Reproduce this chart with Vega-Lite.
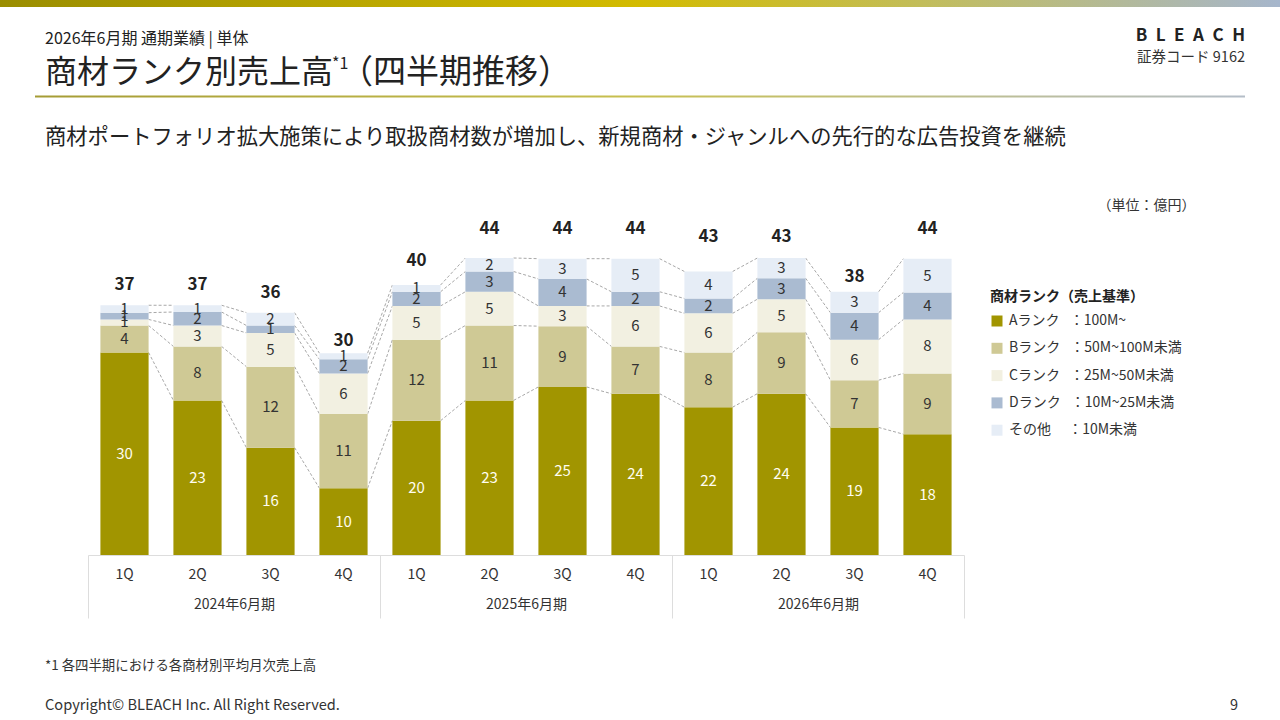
{
  "$schema": "https://vega.github.io/schema/vega-lite/v6.json",
  "width": 876,
  "height": 337.5,
  "autosize": {"type": "none"},
  "padding": {"left": 88, "top": 217.5, "right": 316, "bottom": 165},
  "background": "#ffffff",
  "config": {
    "font": "Noto Sans CJK JP",
    "view": {"stroke": null},
    "axisY": {
      "labels": false, "ticks": false, "domain": false, "grid": false,
      "titleAngle": 0, "titleX": 1058, "titleY": -12.5, "titleAlign": "center", "titleBaseline": "middle",
      "titleFontSize": 14, "titleFontWeight": "normal", "titleColor": "#333333"
    }
  },
  "datasets": {
    "main": [
      {"period": "2024年6月期 1Q", "rank": "Aランク", "value": 30.0},
      {"period": "2024年6月期 1Q", "rank": "Bランク", "value": 4.0},
      {"period": "2024年6月期 1Q", "rank": "Cランク", "value": 0.9},
      {"period": "2024年6月期 1Q", "rank": "Dランク", "value": 1.0},
      {"period": "2024年6月期 1Q", "rank": "その他", "value": 1.1},
      {"period": "2024年6月期 2Q", "rank": "Aランク", "value": 22.9},
      {"period": "2024年6月期 2Q", "rank": "Bランク", "value": 8.0},
      {"period": "2024年6月期 2Q", "rank": "Cランク", "value": 3.1},
      {"period": "2024年6月期 2Q", "rank": "Dランク", "value": 2.0},
      {"period": "2024年6月期 2Q", "rank": "その他", "value": 1.0},
      {"period": "2024年6月期 3Q", "rank": "Aランク", "value": 15.9},
      {"period": "2024年6月期 3Q", "rank": "Bランク", "value": 12.0},
      {"period": "2024年6月期 3Q", "rank": "Cランク", "value": 5.0},
      {"period": "2024年6月期 3Q", "rank": "Dランク", "value": 1.1},
      {"period": "2024年6月期 3Q", "rank": "その他", "value": 1.9},
      {"period": "2024年6月期 4Q", "rank": "Aランク", "value": 9.9},
      {"period": "2024年6月期 4Q", "rank": "Bランク", "value": 11.0},
      {"period": "2024年6月期 4Q", "rank": "Cランク", "value": 6.0},
      {"period": "2024年6月期 4Q", "rank": "Dランク", "value": 2.1},
      {"period": "2024年6月期 4Q", "rank": "その他", "value": 0.9},
      {"period": "2025年6月期 1Q", "rank": "Aランク", "value": 19.9},
      {"period": "2025年6月期 1Q", "rank": "Bランク", "value": 12.0},
      {"period": "2025年6月期 1Q", "rank": "Cランク", "value": 5.0},
      {"period": "2025年6月期 1Q", "rank": "Dランク", "value": 2.1},
      {"period": "2025年6月期 1Q", "rank": "その他", "value": 1.0},
      {"period": "2025年6月期 2Q", "rank": "Aランク", "value": 22.9},
      {"period": "2025年6月期 2Q", "rank": "Bランク", "value": 11.1},
      {"period": "2025年6月期 2Q", "rank": "Cランク", "value": 5.0},
      {"period": "2025年6月期 2Q", "rank": "Dランク", "value": 3.0},
      {"period": "2025年6月期 2Q", "rank": "その他", "value": 2.0},
      {"period": "2025年6月期 3Q", "rank": "Aランク", "value": 24.9},
      {"period": "2025年6月期 3Q", "rank": "Bランク", "value": 9.0},
      {"period": "2025年6月期 3Q", "rank": "Cランク", "value": 3.0},
      {"period": "2025年6月期 3Q", "rank": "Dランク", "value": 4.0},
      {"period": "2025年6月期 3Q", "rank": "その他", "value": 3.0},
      {"period": "2025年6月期 4Q", "rank": "Aランク", "value": 23.9},
      {"period": "2025年6月期 4Q", "rank": "Bランク", "value": 7.0},
      {"period": "2025年6月期 4Q", "rank": "Cランク", "value": 6.0},
      {"period": "2025年6月期 4Q", "rank": "Dランク", "value": 2.1},
      {"period": "2025年6月期 4Q", "rank": "その他", "value": 4.9},
      {"period": "2026年6月期 1Q", "rank": "Aランク", "value": 21.9},
      {"period": "2026年6月期 1Q", "rank": "Bランク", "value": 8.1},
      {"period": "2026年6月期 1Q", "rank": "Cランク", "value": 5.8},
      {"period": "2026年6月期 1Q", "rank": "Dランク", "value": 2.2},
      {"period": "2026年6月期 1Q", "rank": "その他", "value": 4.0},
      {"period": "2026年6月期 2Q", "rank": "Aランク", "value": 23.9},
      {"period": "2026年6月期 2Q", "rank": "Bランク", "value": 9.1},
      {"period": "2026年6月期 2Q", "rank": "Cランク", "value": 4.9},
      {"period": "2026年6月期 2Q", "rank": "Dランク", "value": 3.1},
      {"period": "2026年6月期 2Q", "rank": "その他", "value": 3.0},
      {"period": "2026年6月期 3Q", "rank": "Aランク", "value": 18.9},
      {"period": "2026年6月期 3Q", "rank": "Bランク", "value": 7.0},
      {"period": "2026年6月期 3Q", "rank": "Cランク", "value": 6.0},
      {"period": "2026年6月期 3Q", "rank": "Dランク", "value": 4.0},
      {"period": "2026年6月期 3Q", "rank": "その他", "value": 3.1},
      {"period": "2026年6月期 4Q", "rank": "Aランク", "value": 17.9},
      {"period": "2026年6月期 4Q", "rank": "Bランク", "value": 9.0},
      {"period": "2026年6月期 4Q", "rank": "Cランク", "value": 8.0},
      {"period": "2026年6月期 4Q", "rank": "Dランク", "value": 4.0},
      {"period": "2026年6月期 4Q", "rank": "その他", "value": 5.0}
    ],
    "totals": [
      {"period": "2024年6月期 1Q", "total": 37},
      {"period": "2024年6月期 2Q", "total": 37},
      {"period": "2024年6月期 3Q", "total": 36},
      {"period": "2024年6月期 4Q", "total": 30},
      {"period": "2025年6月期 1Q", "total": 40},
      {"period": "2025年6月期 2Q", "total": 44},
      {"period": "2025年6月期 3Q", "total": 44},
      {"period": "2025年6月期 4Q", "total": 44},
      {"period": "2026年6月期 1Q", "total": 43},
      {"period": "2026年6月期 2Q", "total": 43},
      {"period": "2026年6月期 3Q", "total": 38},
      {"period": "2026年6月期 4Q", "total": 44}
    ],
    "years": [
      {"fy": "2024年6月期"},
      {"fy": "2025年6月期"},
      {"fy": "2026年6月期"}
    ]
  },
  "layer": [
    {
      "data": {"name": "main"},
      "layer": [
        {
          "transform": [
            {"window": [{"op": "sum", "field": "value", "as": "cum"}], "groupby": ["period"], "sort": [{"field": "rank", "order": "ascending"}], "frame": [null, 0]},
            {"window": [{"op": "lead", "field": "cum", "as": "next_cum"}, {"op": "lead", "field": "period", "as": "next_period"}], "groupby": ["rank"], "sort": [{"field": "period", "order": "ascending"}]},
            {"filter": "datum.next_period != null"}
          ],
          "mark": {"type": "rule", "strokeDash": [3, 2], "color": "#a8a8a8", "strokeWidth": 1},
          "encoding": {
            "x": {"field": "period", "type": "nominal", "bandPosition": 1, "title": null},
            "x2": {"field": "next_period", "bandPosition": 0},
            "y": {"field": "cum", "type": "quantitative", "title": "（単位：億円）"},
            "y2": {"field": "next_cum"}
          }
        },
        {
          "mark": {"type": "bar"},
          "encoding": {
            "x": {
              "field": "period", "type": "nominal", "title": null,
              "scale": {"paddingInner": 0.34, "paddingOuter": 0.17},
              "axis": {
                "labelExpr": "split(datum.label, ' ')[1]", "labelAngle": 0, "ticks": false,
                "bandPosition": 0.5, "labelAlign": "center", "labelBaseline": "middle",
                "domain": true, "domainColor": "#dddddd", "labelPadding": 19,
                "labelFontSize": 14, "labelColor": "#333333"
              }
            },
            "y": {"field": "value", "type": "quantitative", "stack": "zero", "title": "（単位：億円）", "scale": {"domain": [0, 50], "nice": false}},
            "order": {"field": "rank", "sort": "ascending"},
            "color": {
              "field": "rank", "type": "nominal",
              "scale": {
                "domain": ["Aランク", "Bランク", "Cランク", "Dランク", "その他"],
                "range": ["#a19500", "#cfc995", "#f2f0e1", "#aabbd1", "#e6edf6"]
              },
              "legend": {
                "orient": "none", "legendX": 902, "legendY": 72.5, "padding": 0,
                "title": "商材ランク（売上基準）", "titleFontSize": 14, "titleFontWeight": "bold", "titleColor": "#222222", "titlePadding": 10,
                "labelFontSize": 14, "labelColor": "#333333", "labelOffset": 5, "labelLimit": 300,
                "symbolType": "square", "symbolSize": 121, "symbolStrokeWidth": 0, "rowPadding": 13.3,
                "labelExpr": "datum.label == 'Aランク' ? 'Aランク\u2002 ：100M~' : datum.label == 'Bランク' ? 'Bランク\u2002 ：50M~100M未満' : datum.label == 'Cランク' ? 'Cランク\u2002 ：25M~50M未満' : datum.label == 'Dランク' ? 'Dランク\u2002 ：10M~25M未満' : 'その他\u3000  ：10M未満'"
              }
            }
          }
        },
        {
          "transform": [
            {"stack": "value", "groupby": ["period"], "sort": [{"field": "rank", "order": "ascending"}], "as": ["y0", "y1"]},
            {"calculate": "(datum.y0 + datum.y1) / 2", "as": "mid"}
          ],
          "mark": {"type": "text", "fontSize": 15, "baseline": "middle"},
          "encoding": {
            "x": {"field": "period", "type": "nominal", "title": null},
            "y": {"field": "mid", "type": "quantitative", "title": "（単位：億円）"},
            "text": {"field": "value", "type": "quantitative", "format": ".0f"},
            "color": {"condition": {"test": "datum.rank == 'Aランク'", "value": "#fffdf0"}, "value": "#333333"}
          }
        }
      ]
    },
    {
      "data": {"name": "totals"},
      "mark": {"type": "text", "fontSize": 17, "fontWeight": "bold", "baseline": "middle", "dy": 2, "color": "#222222"},
      "encoding": {
        "x": {"field": "period", "type": "nominal", "scale": {"type": "band", "paddingInner": 0.34, "paddingOuter": 0.17}, "axis": null},
        "y": {"field": "total", "type": "quantitative", "scale": {"domain": [3, 45.1875], "nice": false, "zero": false}, "axis": null},
        "text": {"field": "total", "type": "quantitative"}
      }
    },
    {
      "data": {"name": "years"},
      "mark": {"type": "point", "opacity": 0},
      "encoding": {
        "x": {
          "field": "fy", "type": "nominal", "title": null,
          "scale": {"type": "band", "paddingInner": 0, "paddingOuter": 0},
          "axis": {
            "orient": "bottom", "domain": false, "ticks": true, "tickBand": "extent", "tickSize": 63,
            "tickColor": "#dddddd", "tickWidth": 1, "labelPadding": -21, "labelAngle": 0,
            "labelFontSize": 14, "labelColor": "#333333"
          }
        }
      }
    },
    {
      "data": {"values": [{}]},
      "mark": {"type": "rect", "x": -88, "x2": 1192, "y": -217.5, "y2": -210.5,
        "fill": {"x1": 0, "y1": 0, "x2": 1, "y2": 0, "gradient": "linear", "stops": [
          {"offset": 0, "color": "#9a8d00"}, {"offset": 0.5, "color": "#d3bb00"}, {"offset": 0.72, "color": "#c2bd5a"}, {"offset": 1, "color": "#a6b6cc"}
        ]}},
      "encoding": {}
    },
    {
      "data": {"values": [{}]},
      "mark": {"type": "rect", "x": -53, "x2": 1157, "y": -122, "y2": -120,
        "fill": {"x1": 0, "y1": 0, "x2": 1, "y2": 0, "gradient": "linear", "stops": [
          {"offset": 0, "color": "#a59c35"}, {"offset": 0.5, "color": "#c8c050"}, {"offset": 1, "color": "#b4bdc8"}
        ]}},
      "encoding": {}
    },
    {
      "data": {"values": [{}]},
      "layer": [
        {"mark": {"type": "text", "text": "2026年6月期 通期業績 | 単体", "x": -43, "y": -178.5, "align": "left", "baseline": "middle", "fontSize": 16, "color": "#222222"}, "encoding": {}},
        {"mark": {"type": "text", "text": "商材ランク別売上高", "x": -43, "y": -145, "align": "left", "baseline": "middle", "fontSize": 32, "color": "#222222"}, "encoding": {}},
        {"mark": {"type": "text", "text": "*1", "x": 244, "y": -154, "align": "left", "baseline": "middle", "fontSize": 16, "color": "#222222"}, "encoding": {}},
        {"mark": {"type": "text", "text": "（四半期推移）", "x": 252, "y": -145, "align": "left", "baseline": "middle", "fontSize": 33, "color": "#222222"}, "encoding": {}},
        {"mark": {"type": "text", "text": "B\u2002L\u2002E\u2002A\u2002C\u2002H", "x": 1157, "y": -181.5, "align": "right", "baseline": "middle", "fontSize": 17, "fontWeight": "bold", "color": "#222222"}, "encoding": {}},
        {"mark": {"type": "text", "text": "証券コード 9162", "x": 1157, "y": -159.5, "align": "right", "baseline": "middle", "fontSize": 14.5, "color": "#333333"}, "encoding": {}},
        {"mark": {"type": "text", "text": "商材ポートフォリオ拡大施策により取扱商材数が増加し、新規商材・ジャンルへの先行的な広告投資を継続", "x": -43, "y": -80, "align": "left", "baseline": "middle", "fontSize": 21.3, "color": "#222222"}, "encoding": {}},
        {"mark": {"type": "text", "text": "*1 各四半期における各商材別平均月次売上高", "x": -43, "y": 448.5, "align": "left", "baseline": "middle", "fontSize": 13.4, "color": "#333333"}, "encoding": {}},
        {"mark": {"type": "text", "text": "Copyright© BLEACH Inc. All Right Reserved.", "x": -43, "y": 488.5, "align": "left", "baseline": "middle", "fontSize": 14.6, "color": "#333333"}, "encoding": {}},
        {"mark": {"type": "text", "text": "9", "x": 1146, "y": 488.5, "align": "center", "baseline": "middle", "fontSize": 14.5, "color": "#333333"}, "encoding": {}}
      ]
    }
  ],
  "resolve": {"scale": {"x": "independent", "y": "independent"}}
}
